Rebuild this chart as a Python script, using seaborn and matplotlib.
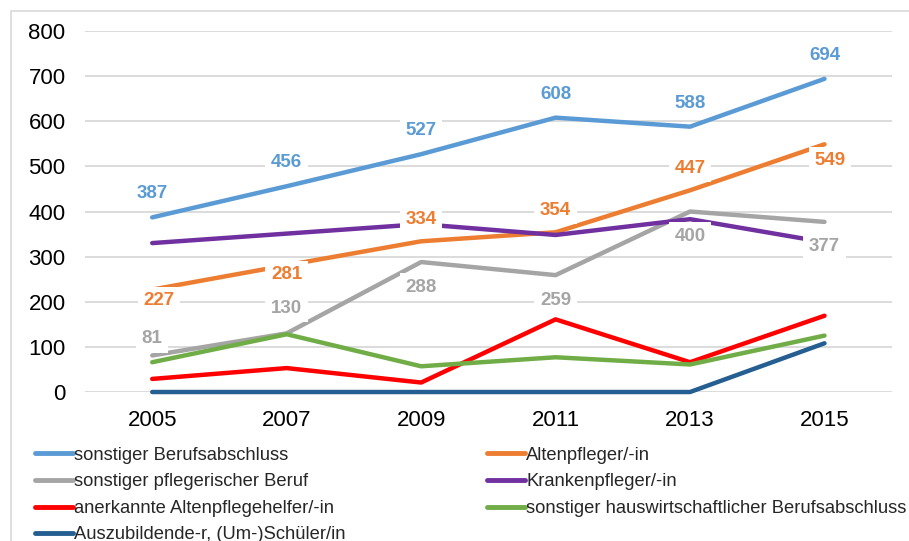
import pandas as pd
import seaborn as sns
import matplotlib.pyplot as plt
from matplotlib.patches import Rectangle

# data
years = [2005, 2007, 2009, 2011, 2013, 2015]
series_names = [
    "sonstiger Berufsabschluss",
    "Altenpfleger/-in",
    "sonstiger pflegerischer Beruf",
    "Krankenpfleger/-in",
    "anerkannte Altenpflegehelfer/-in",
    "sonstiger hauswirtschaftlicher Berufsabschluss",
    "Auszubildende-r, (Um-)Schüler/in",
]
sonstiger_beruf = [387, 456, 527, 608, 588, 694]
altenpfleger = [227, 281, 334, 354, 447, 549]
pflegerisch = [81, 130, 288, 259, 400, 377]
krankenpfleger = [330, 351, 372, 348, 383, 332]
altenpflegehelfer = [29, 53, 21, 161, 66, 169]
hauswirtschaft = [66, 128, 57, 77, 61, 125]
auszubildende = [0, 0, 0, 0, 0, 108]

values = [sonstiger_beruf, altenpfleger, pflegerisch, krankenpfleger,
          altenpflegehelfer, hauswirtschaft, auszubildende]
colors = ["#5B9BD5", "#ED7D31", "#A5A5A5", "#7030A0", "#FF0000", "#70AD47", "#255E91"]

df = pd.DataFrame({
    "Jahr": years * len(series_names),
    "Wert": [v for vals in values for v in vals],
    "Reihe": [n for n in series_names for _ in years],
})

sns.set_style("white")
plt.rcParams["font.family"] = ["Liberation Sans", "DejaVu Sans"]

fig = plt.figure(figsize=(9.09, 5.41), dpi=100)
ax = fig.add_axes([0.0935, 0.2754, 0.8875, 0.6673])

sns.lineplot(data=df, x="Jahr", y="Wert", hue="Reihe", hue_order=series_names,
             palette=colors, linewidth=3.2, ax=ax, legend=True)
for ln in ax.get_lines():
    ln.set_clip_on(False)
    ln.set_solid_capstyle("round")

ax.set_xlim(2004, 2016)
ax.set_ylim(0, 800)
ax.set_xticks(years)
ax.set_yticks(range(0, 801, 100))
ax.tick_params(axis="both", labelsize=16, length=0, colors="black")
ax.tick_params(axis="y", pad=14)
ax.tick_params(axis="x", pad=13)
ax.grid(axis="y", color="#D9D9D9", linewidth=1.3)
ax.set_axisbelow(True)
for s in ax.spines.values():
    s.set_visible(False)
ax.set_xlabel("")
ax.set_ylabel("")

# data labels (offsets in points: dx, dy)
label_offsets = {
    0: [(0, 17)] * 6,
    1: [(5, -8), (0, -7), (0, 16), (0, 16), (0, 16), (4, -12)],
    2: [(0, 12), (0, 18), (0, -18), (0, -18), (0, -18), (0, -18)],
}
for i, offs in label_offsets.items():
    for x, y, (dx, dy) in zip(years, values[i], offs):
        ax.annotate(str(y), (x, y), xytext=(dx, dy), textcoords="offset points",
                    ha="center", va="center", fontsize=13.5, fontweight="bold",
                    color=colors[i], zorder=10,
                    bbox=dict(boxstyle="square,pad=0.3", fc="white", ec="none"))

# legend, row-major order in two columns
handles, labels = ax.get_legend_handles_labels()
ax.get_legend().remove()
order = [0, 2, 4, 6, 1, 3, 5]
leg = fig.legend([handles[k] for k in order], [labels[k] for k in order],
                 ncol=2, loc="upper left", bbox_to_anchor=(0.038, 0.174),
                 frameon=False, fontsize=13.2, handlelength=2.1, handletextpad=0.05,
                 labelspacing=0.52, columnspacing=7.7, borderaxespad=0, borderpad=0)
for h in leg.get_lines():
    h.set_linewidth(3.5)

# outer chart border
fig.patches.append(Rectangle((11 / 909, -0.05), 1.0, 1 - 11 / 541 + 0.05,
                             transform=fig.transFigure, fill=False,
                             edgecolor="#D9D9D9", linewidth=1.2))

fig.savefig("out.png", dpi=100)
